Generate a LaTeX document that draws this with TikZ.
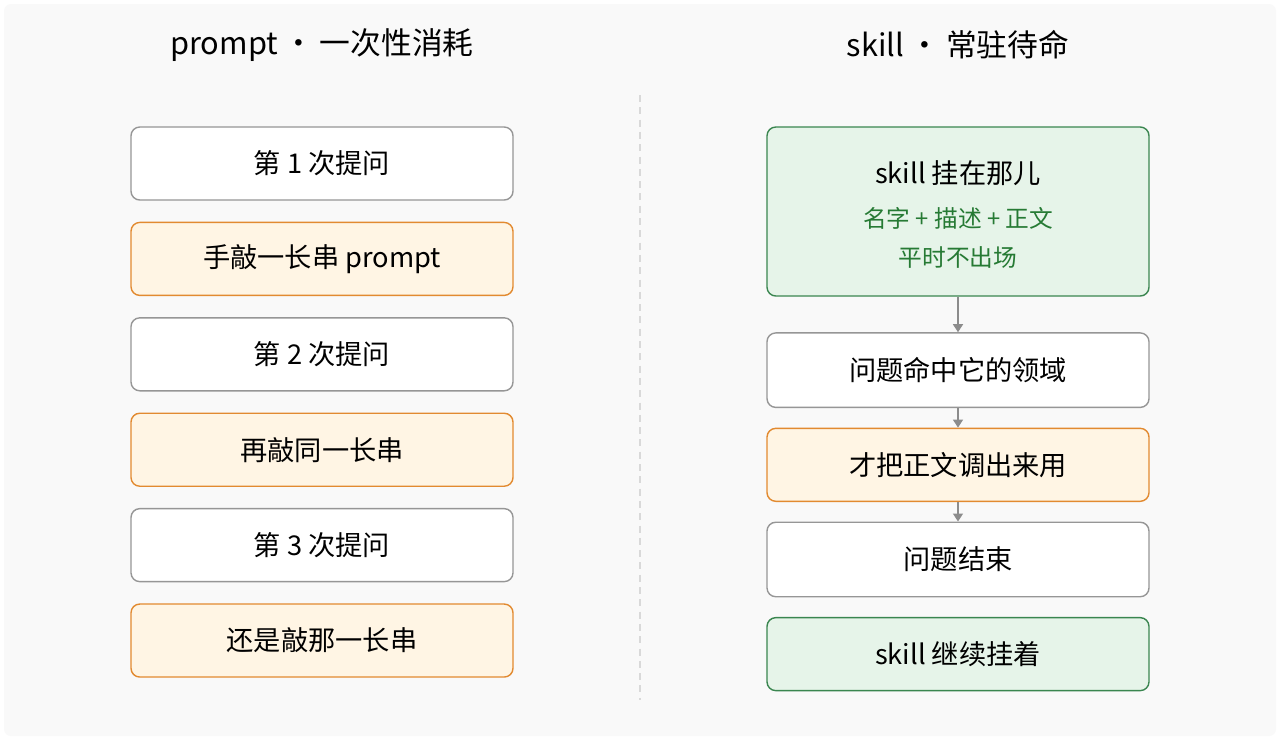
\documentclass[tikz,border=0pt]{standalone}
\usepackage{fontspec}
\setmainfont{Noto Sans CJK SC}
\usetikzlibrary{arrows.meta, positioning}
\definecolor{beijing}{RGB}{249, 249, 249}
\definecolor{bianhui}{RGB}{150, 150, 150}
\definecolor{chengdi}{RGB}{255, 245, 228}
\definecolor{chengbian}{RGB}{226, 138, 48}
\definecolor{lvdi}{RGB}{230, 244, 233}
\definecolor{lvbian}{RGB}{58, 134, 80}
\definecolor{lvzi}{RGB}{38, 122, 52}
\definecolor{jiantou}{RGB}{140, 140, 140}
\tikzset{
  hezi/.style={
    draw=bianhui, fill=white, rounded corners=5pt, line width=0.8pt,
    minimum width=7.64cm, minimum height=1.46cm,
    font=\fontsize{15.5}{18}\selectfont, text centered, inner sep=3pt
  },
  heziC/.style={hezi, fill=chengdi, draw=chengbian},
  heziL/.style={hezi, fill=lvdi, draw=lvbian},
  biaoti/.style={font=\fontsize{17.5}{21}\selectfont},
  xiaozi/.style={font=\fontsize{13.5}{16}\selectfont, text=lvzi},
  jian/.style={-{Triangle[length=1.6mm, width=2mm]}, line width=0.8pt, jiantou},
}
\begin{document}
\begin{tikzpicture}[node distance=0.42cm]
  % background
  \fill[white] (0,0) rectangle (25.6,-14.8);
  \fill[beijing, rounded corners=4pt] (0.08,-0.08) rectangle (25.52,-14.72);

  % titles
  \node[biaoti] (tl) at (6.44,-0.9) {prompt\hspace{0.18em}·\hspace{0.18em}一次性消耗};
  \node[biaoti] (tr) at (19.16,-0.9) {skill\hspace{0.18em}·\hspace{0.18em}常驻待命};

  % divider
  \coordinate (fenA) at (12.8,-1.9);
  \coordinate (fenB) at (12.8,-14.0);
  \draw[gray!30, line width=0.8pt, dash pattern=on 4pt off 3pt] (fenA) -- (fenB);

  % left column
  \node[hezi] (q1) at (6.44,-3.27) {第 1 次提问};
  \node[heziC, below=of q1] (p1) {手敲一长串 prompt};
  \node[hezi, below=of p1]  (q2) {第 2 次提问};
  \node[heziC, below=of q2] (p2) {再敲同一长串};
  \node[hezi, below=of p2]  (q3) {第 3 次提问};
  \node[heziC, below=of q3] (p3) {还是敲那一长串};

  % right column
  \node[heziL, minimum height=3.38cm] (gua) at (19.16,-4.23) {};
  \node[font=\fontsize{15.5}{18}\selectfont] (guaT) at ([yshift=0.77cm]gua.center) {skill 挂在那儿};
  \node[xiaozi, below=0.18cm of guaT] (guaS) {名字 + 描述 + 正文};
  \node[xiaozi, below=0.1cm of guaS]  (guaP) {平时不出场};

  \node[hezi, minimum height=1.49cm, below=0.71cm of gua] (mingzhong) {问题命中它的领域};
  \node[heziC, below=0.39cm of mingzhong] (diaochu) {才把正文调出来用};
  \node[hezi, minimum height=1.49cm, below=0.39cm of diaochu] (jieshu) {问题结束};
  \node[heziL, below=0.39cm of jieshu] (jixu) {skill 继续挂着};

  \draw[jian] (gua) -- (mingzhong);
  \draw[jian] (mingzhong) -- (diaochu);
  \draw[jian] (diaochu) -- (jieshu);
\end{tikzpicture}
\end{document}
